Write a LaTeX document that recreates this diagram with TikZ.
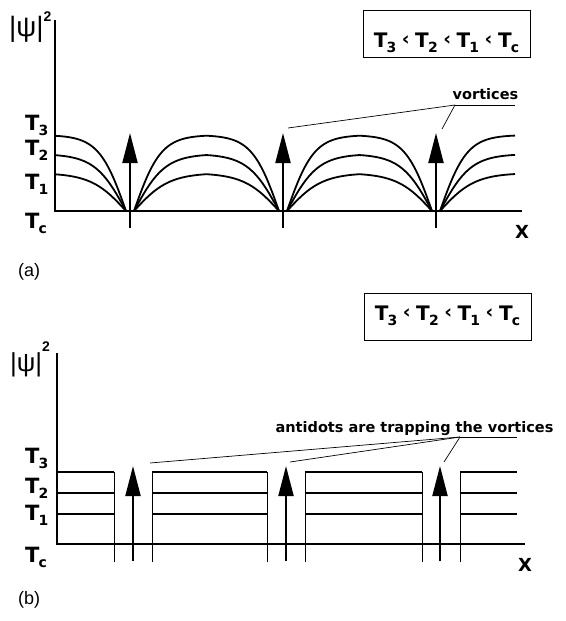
\documentclass[tikz,border=0pt]{standalone}
\usepackage{fontspec}
\setmainfont{Liberation Sans}
\newfontfamily\djv{DejaVu Sans}
\usetikzlibrary{arrows.meta}
\newcommand\Tsub[1]{T\kern-0.8pt\raisebox{-5pt}{\fontsize{14}{14}\selectfont #1}}
\newcommand\lessmark{\hspace{5.5pt}\raisebox{1.5pt}{\fontsize{19}{19}\selectfont ‹}\hspace{5.5pt}}
\begin{document}
\begin{tikzpicture}[x=1pt,y=-1pt,
  declare function={dd(\t)=min(abs(\t-130),abs(\t-283),abs(\t-436));
                    hh(\t,\s)=tanh(max(dd(\t)-4,0)/\s);},
  axisline/.style={line width=1.4pt},
  curve/.style={line width=1.8pt,line join=round},
  level/.style={line width=1.8pt},
  thinline/.style={line width=0.6pt},
  leader/.style={line width=0.7pt},
  vortex/.style={line width=2pt,-{Triangle[width=15pt,length=30pt]}},
  tlabel/.style={anchor=base west,inner sep=0pt,font=\djv\bfseries\fontsize{21}{21}\selectfont},
  note/.style={anchor=base,inner sep=0pt,font=\djv\bfseries\fontsize{14.5}{14.5}\selectfont},
  xlabel/.style={anchor=base west,inner sep=0pt,font=\djv\bfseries\fontsize{18}{18}\selectfont},
  panel/.style={anchor=base west,inner sep=0pt,font=\fontsize{18}{18}\selectfont},
  orderbox/.style={draw,line width=0.9pt,inner xsep=0pt,inner ysep=0pt,minimum width=167pt,
                   font=\djv\bfseries\fontsize{20}{20}\selectfont}
]
\useasboundingbox (0,0) rectangle (565,621);

% ================= panel (a) =================
\coordinate (aTop) at (55,20);
\coordinate (aO) at (55,211);
\coordinate (aEnd) at (522,211);
\draw[axisline] (aTop) -- (aO) -- (aEnd);

\node[anchor=base west,inner sep=0pt,font=\fontsize{28}{28}\selectfont] (apsi) at (9,36)
  {|ψ|\raisebox{15pt}{\bfseries\fontsize{14}{14}\selectfont 2}};

\node[tlabel] (aT3) at (25,130) {\Tsub{3}};
\node[tlabel] (aT2) at (25,155) {\Tsub{2}};
\node[tlabel] (aT1) at (25,189) {\Tsub{1}};
\node[tlabel] (aTc) at (25,228) {\Tsub{c}};

\draw[curve] plot[domain=55:515,samples=461] (\x,{211-76*hh(\x,27)});
\draw[curve] plot[domain=55:515,samples=461] (\x,{211-57*hh(\x,31)});
\draw[curve] plot[domain=55:515,samples=461] (\x,{211-38*hh(\x,35)});

\coordinate (av1b) at (130,228); \coordinate (av1t) at (130,133);
\coordinate (av2b) at (283,228); \coordinate (av2t) at (283,133);
\coordinate (av3b) at (436,228); \coordinate (av3t) at (436,133);
\draw[vortex] (av1b) -- (av1t);
\draw[vortex] (av2b) -- (av2t);
\draw[vortex] (av3b) -- (av3t);

\node[xlabel] (aX) at (515,238) {X};

\node[note] (avort) at (485.5,99) {vortices};
\coordinate (aj) at (455,105);
\coordinate (aju) at (515,105);
\coordinate (al1) at (288,128);
\coordinate (al2) at (442,129);
\draw[leader] (aj) -- (aju);
\draw[leader] (aj) -- (al1);
\draw[leader] (aj) -- (al2);

\node[orderbox,anchor=north,text height=37pt,text depth=10pt] (abox) at (446.5,10)
  {\Tsub{3}\lessmark\Tsub{2}\lessmark\Tsub{1}\lessmark\Tsub{c}};

\node[panel] (alab) at (18,276) {(a)};

% ================= panel (b) =================
\coordinate (bTop) at (57,353);
\coordinate (bO) at (57,544);
\coordinate (bEnd) at (525,544);
\draw[axisline] (bTop) -- (bO) -- (bEnd);

\node[anchor=base west,inner sep=0pt,font=\fontsize{26}{26}\selectfont] (bpsi) at (10,371)
  {|ψ|\raisebox{20pt}{\bfseries\fontsize{14}{14}\selectfont 2}};

\node[tlabel] (bT3) at (25,463) {\Tsub{3}};
\node[tlabel] (bT2) at (25,493) {\Tsub{2}};
\node[tlabel] (bT1) at (25,520) {\Tsub{1}};
\node[tlabel] (bTc) at (25,562) {\Tsub{c}};

% level segments
\foreach \l/\r in {57/114,152/267,305/422,460/517}{
  \coordinate (s3l) at (\l,472); \coordinate (s3r) at (\r,472);
  \coordinate (s2l) at (\l,493); \coordinate (s2r) at (\r,493);
  \coordinate (s1l) at (\l,514); \coordinate (s1r) at (\r,514);
  \draw[level] (s3l) -- (s3r);
  \draw[level] (s2l) -- (s2r);
  \draw[level] (s1l) -- (s1r);
}
% antidot edges
\foreach \v in {114,152,267,305,422,460}{
  \coordinate (et) at (\v,472); \coordinate (eb) at (\v,562);
  \draw[thinline] (et) -- (eb);
}

\coordinate (bv1b) at (133,561); \coordinate (bv1t) at (133,466);
\coordinate (bv2b) at (286,561); \coordinate (bv2t) at (286,466);
\coordinate (bv3b) at (440,561); \coordinate (bv3t) at (440,466);
\draw[vortex] (bv1b) -- (bv1t);
\draw[vortex] (bv2b) -- (bv2t);
\draw[vortex] (bv3b) -- (bv3t);

\node[xlabel] (bX) at (518,571) {X};

\node[note] (banti) at (414.5,432) {antidots are trapping the vortices};
\coordinate (bj) at (460,437);
\coordinate (bju) at (517,437);
\coordinate (bl1) at (150,463);
\coordinate (bl2) at (290,462);
\coordinate (bl3) at (444,462);
\draw[leader] (bj) -- (bju);
\draw[leader] (bj) -- (bl1);
\draw[leader] (bj) -- (bl2);
\draw[leader] (bj) -- (bl3);

\node[orderbox,anchor=north,text height=27pt,text depth=20pt] (bbox) at (447.5,293)
  {\Tsub{3}\lessmark\Tsub{2}\lessmark\Tsub{1}\lessmark\Tsub{c}};

\node[panel] (blab) at (18,604) {(b)};
\end{tikzpicture}
\end{document}
